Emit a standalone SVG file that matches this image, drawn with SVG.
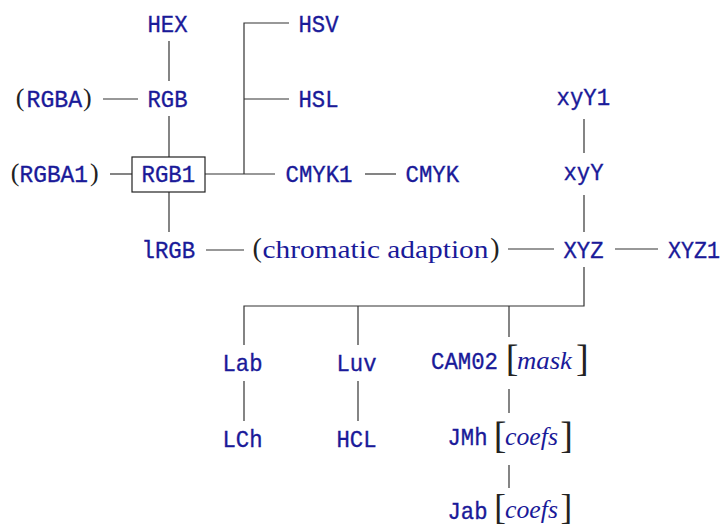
<svg xmlns="http://www.w3.org/2000/svg" width="725" height="526" viewBox="0 0 725 526">
<style>
.tt{font-family:"Liberation Mono","DejaVu Sans Mono",monospace;font-size:24px;fill:#1a1a99;stroke:#1a1a99;stroke-width:0.35}
.rm{font-family:"Liberation Serif","DejaVu Serif",serif;font-size:25px;fill:#1a1a99}
.it{font-family:"Liberation Serif","DejaVu Serif",serif;font-size:25px;font-style:italic;fill:#1a1a99}
.par{font-family:"Liberation Serif","DejaVu Serif",serif;font-size:26px;fill:#222}
.br{font-family:"Liberation Serif","DejaVu Serif",serif;font-size:38px;fill:#222}
.ln{stroke:#333;stroke-width:1.2;fill:none}
</style>
<rect width="725" height="526" fill="#fff"/>
<g id="connectors" class="ln">
<path d="M169 41V81"/>
<path d="M103 99H138"/>
<path d="M169 116V157"/>
<path d="M110 174H132"/>
<path d="M205 174H275"/>
<path d="M289 23H244V174"/>
<path d="M244 99H289"/>
<path d="M365 174H396"/>
<path d="M169 192V232"/>
<path d="M206 250H244"/>
<path d="M508 249H554"/>
<path d="M615 249H658"/>
<path d="M584 119V153"/>
<path d="M584 195V232"/>
<path d="M584 267V306H244V345"/>
<path d="M358 306V345"/>
<path d="M509 306V337"/>
<path d="M244 381V421"/>
<path d="M358 381V421"/>
<path d="M509 389V413"/>
<path d="M509 465V488"/>
</g>
<g id="HEX"><text class="tt" x="147.5" y="32" textLength="40" lengthAdjust="spacingAndGlyphs">HEX</text></g>
<g id="RGB"><text class="tt" x="147.5" y="107" textLength="40" lengthAdjust="spacingAndGlyphs">RGB</text></g>
<g id="RGBA"><text class="par" x="15.7" y="106">(</text><text class="tt" x="26.5" y="107" textLength="55.5" lengthAdjust="spacingAndGlyphs">RGBA</text><text class="par" x="83" y="106">)</text></g>
<g id="RGB1"><rect x="132" y="157" width="73" height="35" fill="none" stroke="#222" stroke-width="1.2"/><text class="tt" x="141.5" y="182" textLength="53.6" lengthAdjust="spacingAndGlyphs">RGB1</text></g>
<g id="RGBA1"><text class="par" x="10.7" y="181">(</text><text class="tt" x="19.5" y="182" textLength="68.5" lengthAdjust="spacingAndGlyphs">RGBA1</text><text class="par" x="90" y="181">)</text></g>
<g id="HSV"><text class="tt" x="298.5" y="32" textLength="40" lengthAdjust="spacingAndGlyphs">HSV</text></g>
<g id="HSL"><text class="tt" x="298.5" y="107" textLength="40" lengthAdjust="spacingAndGlyphs">HSL</text></g>
<g id="CMYK1"><text class="tt" x="285.5" y="182" textLength="67" lengthAdjust="spacingAndGlyphs">CMYK1</text></g>
<g id="CMYK"><text class="tt" x="405.5" y="182" textLength="53.6" lengthAdjust="spacingAndGlyphs">CMYK</text></g>
<g id="lRGB"><text class="tt" x="141.5" y="258" textLength="53.6" lengthAdjust="spacingAndGlyphs">lRGB</text></g>
<g id="chromatic"><text class="par" x="252.6" y="257" style="font-size:28px">(</text><text class="rm" x="262.5" y="258" textLength="226" lengthAdjust="spacingAndGlyphs">chromatic adaption</text><text class="par" x="490.2" y="257" style="font-size:28px">)</text></g>
<g id="XYZ"><text class="tt" x="563.5" y="258" textLength="40" lengthAdjust="spacingAndGlyphs">XYZ</text></g>
<g id="XYZ1"><text class="tt" x="668" y="258" textLength="52" lengthAdjust="spacingAndGlyphs">XYZ1</text></g>
<g id="xyY1"><text class="tt" x="556.5" y="105" textLength="53.6" lengthAdjust="spacingAndGlyphs">xyY1</text></g>
<g id="xyY"><text class="tt" x="563.5" y="180" textLength="40" lengthAdjust="spacingAndGlyphs">xyY</text></g>
<g id="Lab"><text class="tt" x="222.5" y="371" textLength="40" lengthAdjust="spacingAndGlyphs">Lab</text></g>
<g id="LCh"><text class="tt" x="222.5" y="447" textLength="40" lengthAdjust="spacingAndGlyphs">LCh</text></g>
<g id="Luv"><text class="tt" x="336.5" y="371" textLength="40" lengthAdjust="spacingAndGlyphs">Luv</text></g>
<g id="HCL"><text class="tt" x="336.5" y="447" textLength="40" lengthAdjust="spacingAndGlyphs">HCL</text></g>
<g id="CAM02"><text class="tt" x="431" y="369" textLength="67" lengthAdjust="spacingAndGlyphs">CAM02</text><text class="br" x="505.7" y="371">[</text><text class="it" x="517" y="369" textLength="55" lengthAdjust="spacingAndGlyphs">mask</text><text class="br" x="576" y="371">]</text></g>
<g id="JMh"><text class="tt" x="447.5" y="445" textLength="40" lengthAdjust="spacingAndGlyphs">JMh</text><text class="br" x="493.7" y="448">[</text><text class="it" x="505" y="445" textLength="53" lengthAdjust="spacingAndGlyphs">coefs</text><text class="br" x="560.3" y="448">]</text></g>
<g id="Jab"><text class="tt" x="447.5" y="519" textLength="40" lengthAdjust="spacingAndGlyphs">Jab</text><text class="br" x="494.2" y="519" style="font-size:35px">[</text><text class="it" x="505" y="518" textLength="53" lengthAdjust="spacingAndGlyphs">coefs</text><text class="br" x="560.6" y="519" style="font-size:35px">]</text></g>
</svg>
